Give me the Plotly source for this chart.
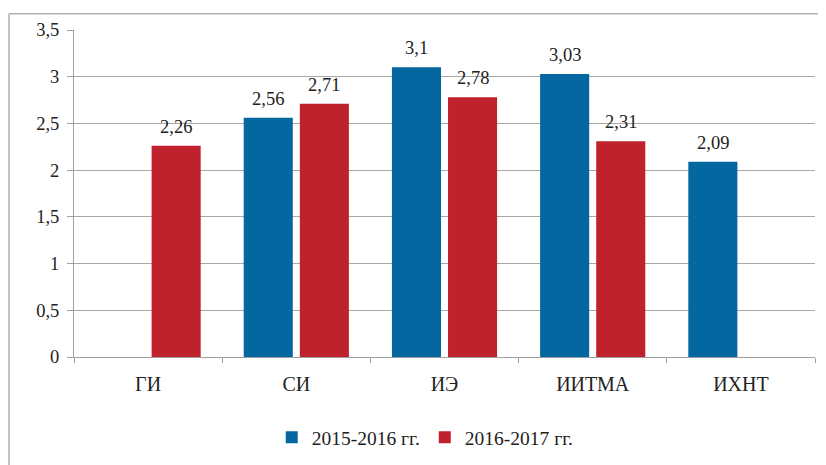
import plotly.graph_objects as go

categories = ["ГИ", "СИ", "ИЭ", "ИИТМА", "ИХНТ"]
series_names = ["2015-2016 гг.", "2016-2017 гг."]
values_2015 = [None, 2.56, 3.1, 3.03, 2.09]
values_2016 = [2.26, 2.71, 2.78, 2.31, None]
colors = ["#0567A0", "#C0222D"]
y_ticks = [0, 0.5, 1, 1.5, 2, 2.5, 3, 3.5]

FONT = "'Times New Roman', 'Liberation Serif', Tinos, 'DejaVu Serif', serif"


def fmt(v):
    return "" if v is None else str(v).replace(".", ",")


fig = go.Figure()
for name, vals, col in zip(series_names, [values_2015, values_2016], colors):
    fig.add_trace(go.Bar(
        x=categories, y=vals, name=name,
        marker=dict(color=col, line=dict(width=0)),
    ))

# value labels, placed over each bar of the group
annotations = []
for vals, shift in zip([values_2015, values_2016], [-28, 28]):
    for cat, v in zip(categories, vals):
        if v is None:
            continue
        annotations.append(dict(
            x=cat, y=v, xref="x", yref="y", text=fmt(v), showarrow=False,
            xshift=shift, yshift=19, yanchor="middle",
            font=dict(family=FONT, size=18.5, color="#222"),
        ))

# page has an 8px body margin, so figure coords = page coords - 8
L, R, T, B = 66, 19, 17, 116
pw = 826 - L - R
ph = 465 - T - B

fig.update_layout(
    width=826, height=465,
    margin=dict(l=L, r=R, t=T, b=B),
    paper_bgcolor="white", plot_bgcolor="white",
    font=dict(family=FONT, size=18.5, color="#222"),
    separators=", ",
    barmode="group", bargap=0.243, bargroupgap=0.125,
    showlegend=True,
    legend=dict(orientation="h", x=0.474, xanchor="center", xref="paper",
                y=-62 / ph, yanchor="top", font=dict(family=FONT, size=19.5),
                itemwidth=30, traceorder="normal"),
    xaxis=dict(type="category", tickson="boundaries", ticks="outside",
               ticklen=5, tickcolor="#A0A0A0", showline=True,
               linecolor="#A0A0A0", linewidth=1, showgrid=False,
               ticklabelstandoff=9, tickfont=dict(family=FONT, size=20)),
    yaxis=dict(range=[0, 3.5], tickvals=y_ticks, ticks="outside",
               ticklen=6, tickcolor="#A0A0A0", showline=True,
               linecolor="#A0A0A0", linewidth=1, showgrid=True,
               gridcolor="#A8A8A8", gridwidth=1, zeroline=False,
               ticklabelstandoff=4, tickfont=dict(family=FONT, size=18.5)),
    annotations=annotations,
    shapes=[
        dict(type="line", xref="paper", yref="paper",
             x0=-65 / pw, x1=1.1, y0=1 + 16.5 / ph, y1=1 + 16.5 / ph,
             line=dict(color="#B0B0B0", width=1.5)),
        dict(type="line", xref="paper", yref="paper",
             x0=-65 / pw, x1=-65 / pw, y0=1 + 16.5 / ph, y1=-0.5,
             line=dict(color="#B0B0B0", width=1.5)),
    ],
)

fig.write_html("out.html")
